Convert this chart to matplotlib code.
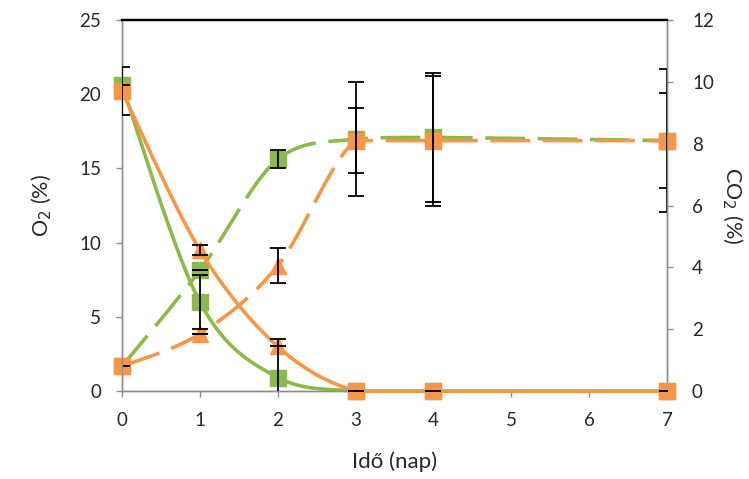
import numpy as np
import matplotlib
matplotlib.use("Agg")
import matplotlib.pyplot as plt

# ---- data ----
days = [0, 1, 2, 3, 4, 7]
o2_green = [20.6, 6.0, 0.9, 0.0, 0.0, 0.0]
o2_green_err = [0.0, 1.8, 2.6, 0.0, 0.0, 0.0]
o2_orange = [20.2, 9.5, 3.0, 0.0, 0.0, 0.0]
o2_orange_err = [1.6, 0.35, 0.0, 0.0, 0.0, 0.0]
co2_green = [0.8, 3.9, 7.5, 8.15, 8.2, 8.1]
co2_green_err = [0.0, 0.0, 0.3, 1.85, 2.1, 2.3]
co2_orange = [0.8, 1.85, 4.05, 8.1, 8.1, 8.1]
co2_orange_err = [0.0, 0.0, 0.57, 1.05, 2.1, 1.55]
xticks = [0, 1, 2, 3, 4, 5, 6, 7]
o2_ticks = [0, 5, 10, 15, 20, 25]
co2_ticks = [0, 2, 4, 6, 8, 10, 12]

GREEN = "#8DB84A"
ORANGE = "#F79646"
FONT = "Lato"

plt.rcParams['font.family'] = [FONT, 'DejaVu Sans']

fig = plt.figure(figsize=(7.49, 4.79), dpi=100)
ax = fig.add_axes([122/749, 1-391/479, (667-122)/749, (391-20)/479])
ax2 = ax.twinx()

ax.set_xlim(0, 7)
ax.set_ylim(0, 25)
ax2.set_ylim(0, 12)


def smooth(axis, x, y, n=40):
    P = axis.transData.transform(np.column_stack([x, y]).astype(float))
    segs = []
    for i in range(len(P) - 1):
        p0 = P[i - 1] if i > 0 else P[i]
        p1, p2 = P[i], P[i + 1]
        p3 = P[i + 2] if i + 2 < len(P) else P[i + 1]
        c1 = p1 + (p2 - p0) / 6.0
        c2 = p2 - (p3 - p1) / 6.0
        lo, hi = min(p1[1], p2[1]), max(p1[1], p2[1])
        c1[1] = np.clip(c1[1], lo, hi)
        c2[1] = np.clip(c2[1], lo, hi)
        t = np.linspace(0, 1, n)[:, None]
        seg = (1 - t) ** 3 * p1 + 3 * (1 - t) ** 2 * t * c1 + 3 * (1 - t) * t ** 2 * c2 + t ** 3 * p2
        segs.append(seg if i == 0 else seg[1:])
    D = axis.transData.inverted().transform(np.vstack(segs))
    return D[:, 0], D[:, 1]

LW = 2.6
MS = 12
dash = (11, 3.5)
EB = dict(fmt='none', ecolor='black', elinewidth=1.3, capsize=6, capthick=1.3, zorder=8)

# CO2 (dashed, right axis)
for yv, col, z in [(co2_green, GREEN, 2), (co2_orange, ORANGE, 3)]:
    sx, sy = smooth(ax2, days, yv)
    ax2.plot(sx, sy, color=col, lw=LW, dashes=dash, zorder=z, dash_capstyle='butt', clip_on=False)
ax2.plot(days, co2_green, ls='none', marker='s', ms=MS, color=GREEN, zorder=4, clip_on=False)
ax2.plot(days, co2_orange, ls='none', marker='^', ms=MS, color=ORANGE, markevery=[1, 2], zorder=5, clip_on=False)
ax2.plot(days, co2_orange, ls='none', marker='s', ms=MS, color=ORANGE, markevery=[0, 3, 4, 5], zorder=5, clip_on=False)
ax2.errorbar(days, co2_green, yerr=co2_green_err, **EB)
ax2.errorbar(days, co2_orange, yerr=co2_orange_err, **EB)

# O2 (solid, left axis)
ax.set_zorder(ax2.get_zorder() + 1)
ax.patch.set_visible(False)
for yv, col, z in [(o2_green, GREEN, 2), (o2_orange, ORANGE, 3)]:
    sx, sy = smooth(ax, days, yv)
    ax.plot(sx, sy, color=col, lw=LW, zorder=z, clip_on=False)
ax.plot(days, o2_green, ls='none', marker='s', ms=MS, color=GREEN, zorder=4, clip_on=False)
ax.plot(days, o2_orange, ls='none', marker='^', ms=MS, color=ORANGE, markevery=[1, 2], zorder=5, clip_on=False)
ax.plot(days, o2_orange, ls='none', marker='s', ms=MS, color=ORANGE, markevery=[0, 3, 4, 5], zorder=5, clip_on=False)
ax.errorbar(days, o2_green, yerr=o2_green_err, **EB)
ax.errorbar(days, o2_orange, yerr=o2_orange_err, **EB)

# axes styling
ax.set_xticks(xticks)
ax.set_yticks(o2_ticks)
ax2.set_yticks(co2_ticks)
for a in (ax, ax2):
    for s in ('left', 'right', 'bottom'):
        a.spines[s].set_color('#8C8C8C')
        a.spines[s].set_linewidth(1.0)
    a.spines['top'].set_color('black')
    a.spines['top'].set_linewidth(1.6)
    a.tick_params(colors='#8C8C8C', labelcolor='#262626', labelsize=13.5, length=4, width=1, direction='out')
ax.tick_params(axis='x', pad=11)
ax.tick_params(axis='y', pad=11)
ax2.tick_params(axis='y', pad=14)

ax.set_ylabel("O$_2$ (%)", fontsize=15.5, color='#262626', labelpad=18)
ax2.set_ylabel("CO$_2$ (%)", fontsize=15.5, color='#262626', rotation=270, labelpad=22)
ax.set_xlabel("Idő (nap)", fontsize=16, color='#262626', labelpad=16)

fig.savefig("out.png", dpi=100)
